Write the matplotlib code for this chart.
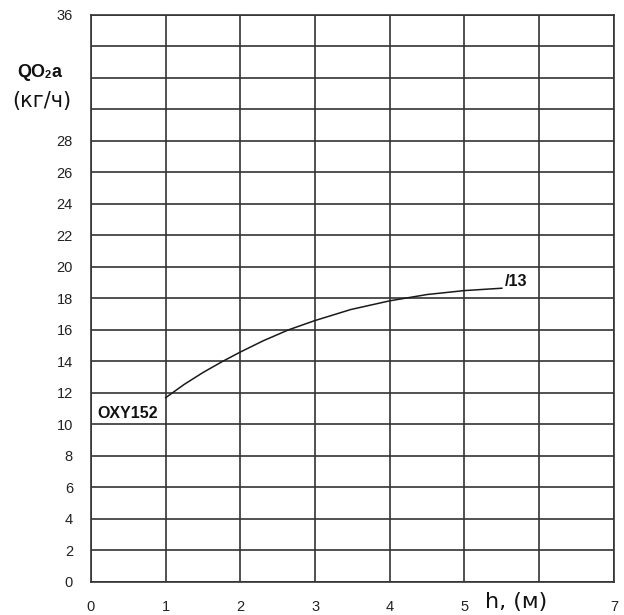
import matplotlib
matplotlib.use("Agg")
import matplotlib.pyplot as plt

# data
h = [1.0, 1.25, 1.5, 1.76, 2.0, 2.3, 2.64, 3.0, 3.48, 4.0, 4.5, 5.0, 5.5]
qo2a = [11.7, 12.55, 13.3, 14.0, 14.6, 15.3, 16.0, 16.6, 17.3, 17.85, 18.25, 18.5, 18.65]
x_ticks = [0, 1, 2, 3, 4, 5, 7]
y_ticks = [0, 2, 4, 6, 8, 10, 12, 14, 16, 18, 20, 22, 24, 26, 28, 36]
grid_y = list(range(0, 37, 2))
grid_x = list(range(0, 8))

plt.rcParams['font.family'] = ['Liberation Sans', 'DejaVu Sans']

fig = plt.figure(figsize=(6.24, 6.15), dpi=100)
ax = fig.add_axes([0.1458, 0.0537, 0.838, 0.922])

grid_col = '#333333'
for gy in grid_y:
    ax.axhline(gy, color=grid_col, lw=1.2, zorder=1)
for gx in grid_x:
    ax.axvline(gx, color=grid_col, lw=1.2, zorder=1)

ax.plot(h, qo2a, color='#1a1a1a', lw=1.1, zorder=3)

ax.set_xlim(0, 7)
ax.set_ylim(0, 36)
ax.set_xticks(x_ticks)
ax.set_yticks(y_ticks)
ax.tick_params(length=0, labelsize=10.5, colors='#222222')
ax.tick_params(axis='x', pad=13)
ax.tick_params(axis='y', pad=13)
for s in ax.spines.values():
    s.set_color(grid_col)
    s.set_linewidth(1.2)

# texts
fig.text(0.028, 0.875, 'QO', fontsize=13, fontweight='bold', color='#111111')
fig.text(0.072, 0.873, '2', fontsize=8, fontweight='bold', color='#111111')
fig.text(0.083, 0.875, 'a', fontsize=13, fontweight='bold', color='#111111')
fig.text(0.020, 0.826, '(кг/ч)', fontsize=15, color='#111111', family=['DejaVu Sans'])

ax.text(0.09, 10.7, 'OXY152', fontsize=11.5, fontweight='bold', color='#111111', va='center')
ax.text(5.54, 19.1, '/13', fontsize=11.5, fontweight='bold', color='#111111', va='center')
fig.text(0.777, 0.012, 'h, (м)', fontsize=16, color='#111111', family=['DejaVu Sans'])

fig.savefig('out.png', dpi=100)
